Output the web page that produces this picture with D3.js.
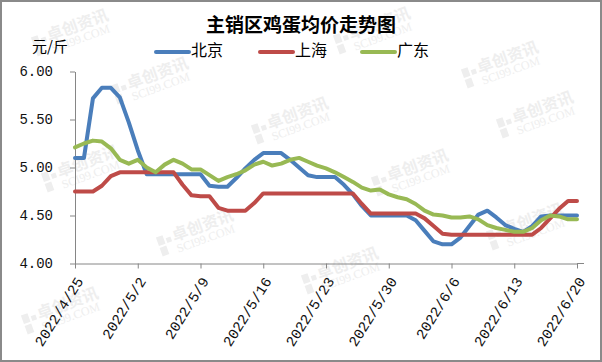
<!DOCTYPE html>
<html>
<head>
<meta charset="utf-8">
<script src="https://cdn.jsdelivr.net/npm/d3@7"></script>
<style>
  body { margin: 0; background: #fff; }
  svg { display: block; }
</style>
</head>
<body>
<svg id="chart"></svg>
<script>
// daily quotes, 2022/4/25 .. 2022/6/20
const dates = [
  '2022-04-25','2022-04-26','2022-04-27','2022-04-28','2022-04-29','2022-04-30','2022-05-01',
  '2022-05-02','2022-05-03','2022-05-04','2022-05-05','2022-05-06','2022-05-07','2022-05-08',
  '2022-05-09','2022-05-10','2022-05-11','2022-05-12','2022-05-13','2022-05-14','2022-05-15',
  '2022-05-16','2022-05-17','2022-05-18','2022-05-19','2022-05-20','2022-05-21','2022-05-22',
  '2022-05-23','2022-05-24','2022-05-25','2022-05-26','2022-05-27','2022-05-28','2022-05-29',
  '2022-05-30','2022-05-31','2022-06-01','2022-06-02','2022-06-03','2022-06-04','2022-06-05',
  '2022-06-06','2022-06-07','2022-06-08','2022-06-09','2022-06-10','2022-06-11','2022-06-12',
  '2022-06-13','2022-06-14','2022-06-15','2022-06-16','2022-06-17','2022-06-18','2022-06-19',
  '2022-06-20'
];
const beijing = [
  5.10,5.10,5.72,5.83,5.83,5.73,5.47,5.18,4.93,4.93,4.93,4.93,4.93,4.93,
  4.93,4.81,4.80,4.80,4.89,4.99,5.08,5.15,5.15,5.15,5.08,5.00,4.92,4.90,
  4.90,4.90,4.82,4.72,4.60,4.50,4.50,4.50,4.50,4.50,4.45,4.34,4.23,4.20,
  4.20,4.27,4.39,4.51,4.55,4.48,4.40,4.36,4.33,4.39,4.49,4.50,4.50,4.50,4.50
];
const shanghai = [
  4.75,4.75,4.75,4.81,4.91,4.95,4.95,4.95,4.95,4.95,4.95,4.95,4.82,4.71,
  4.70,4.70,4.58,4.55,4.55,4.55,4.63,4.73,4.73,4.73,4.73,4.73,4.73,4.73,
  4.73,4.73,4.73,4.73,4.62,4.52,4.52,4.52,4.52,4.52,4.52,4.47,4.39,4.31,
  4.30,4.30,4.30,4.30,4.30,4.30,4.30,4.30,4.30,4.30,4.37,4.47,4.57,4.65,4.65
];
const guangdong = [
  5.21,5.25,5.28,5.27,5.20,5.08,5.04,5.08,5.00,4.95,5.03,5.08,5.04,4.98,
  4.98,4.92,4.86,4.90,4.93,4.97,5.03,5.06,5.02,5.04,5.08,5.10,5.06,5.02,
  4.99,4.95,4.90,4.85,4.79,4.76,4.77,4.72,4.69,4.67,4.62,4.55,4.51,4.50,
  4.48,4.48,4.49,4.46,4.40,4.37,4.35,4.33,4.33,4.37,4.45,4.50,4.49,4.46,4.46
];
const seriesNames = ['北京', '上海', '广东'];
const yTicks = [4.00, 4.50, 5.00, 5.50, 6.00];
const xTickDates = ['2022-04-25','2022-05-02','2022-05-09','2022-05-16','2022-05-23',
  '2022-05-30','2022-06-06','2022-06-13','2022-06-20'];

const width = 602, height = 362;
const colors = ['#4a7ebb', '#be4b48', '#98b954'];
const parse = d3.timeParse('%Y-%m-%d');
const fmt = d3.timeFormat('%Y/%-m/%-d');

const svg = d3.select('#chart').attr('width', width).attr('height', height);

// frame
svg.append('rect')
  .attr('x', 1).attr('y', 1)
  .attr('width', width - 2).attr('height', height - 2)
  .attr('fill', '#fff').attr('stroke', '#8a8a8a').attr('stroke-width', 2);

// watermarks (kept inside the frame)
const marks = [[70,34],[372,32],[150,82],[500,66],[290,122],[535,116],[80,170],[410,174],[195,234],[525,228],[340,272],[60,312]];
marks.forEach(([mx, my]) => {
  const g = svg.append('g')
    .attr('transform', `translate(${mx},${my}) rotate(-20)`)
    .attr('fill', '#eeeeee');
  g.append('rect').attr('x', -38).attr('y', -10).attr('width', 7).attr('height', 9);
  g.append('rect').attr('x', -38).attr('y', 1).attr('width', 7).attr('height', 9);
  g.append('rect').attr('x', -29).attr('y', -6).attr('width', 5).attr('height', 5);
  g.append('text').attr('x', -22).attr('y', 0)
    .style('font-family', '"Noto Sans CJK SC"').style('font-weight', 700).style('font-size', '16px')
    .text('卓创资讯');
  g.append('text').attr('x', -22).attr('y', 12)
    .style('font-family', '"Liberation Serif"').style('font-size', '12px')
    .text('SCI99.COM');
});

const x = d3.scaleTime()
  .domain([parse(dates[0]), parse(dates[dates.length - 1])])
  .range([75, 577]);
const y = d3.scaleLinear().domain([4, 6]).range([263.5, 71.5]);

// y axis
const yAxis = svg.append('g')
  .attr('transform', 'translate(75,0)')
  .call(d3.axisLeft(y).tickValues(yTicks).tickSize(5).tickSizeOuter(0).tickPadding(17)
    .tickFormat(d3.format('.2f')));
yAxis.selectAll('text')
  .style('font-family', '"Liberation Mono"').style('font-size', '14px').attr('fill', '#111');

// x axis
const xAxis = svg.append('g')
  .attr('transform', 'translate(0,263.5)')
  .call(d3.axisBottom(x).tickValues(xTickDates.map(parse)).tickSize(5).tickSizeOuter(0)
    .tickFormat(fmt));
xAxis.selectAll('text')
  .style('font-family', '"Liberation Mono"').style('font-size', '14.5px').attr('fill', '#111')
  .attr('text-anchor', 'end')
  .attr('transform', 'translate(4,15) rotate(-58)')
  .attr('dy', '0.35em').attr('y', 0).attr('x', 0);
xAxis.append('line').attr('x1', 577).attr('x2', 584).attr('stroke', '#868686');

svg.selectAll('.domain, .tick line').attr('stroke', '#868686');

// lines
const line = d3.line()
  .x((d, i) => x(parse(dates[i])))
  .y(d => y(d));
[beijing, shanghai, guangdong].forEach((s, k) => {
  svg.append('path')
    .datum(s)
    .attr('fill', 'none')
    .attr('stroke', colors[k])
    .attr('stroke-width', 4)
    .attr('stroke-linejoin', 'round')
    .attr('stroke-linecap', 'round')
    .attr('d', line);
});

// title
svg.append('text')
  .attr('x', 301).attr('y', 27)
  .attr('text-anchor', 'middle').attr('dominant-baseline', 'middle')
  .style('font-family', '"Noto Sans CJK SC"').style('font-weight', 700).style('font-size', '19px')
  .text('主销区鸡蛋均价走势图');

// unit
svg.append('text')
  .attr('x', 32).attr('y', 48)
  .attr('dominant-baseline', 'middle')
  .style('font-family', '"Noto Sans CJK SC"').style('font-size', '15px')
  .text('元/斤');

// legend
const legendX = [156, 260, 362];
seriesNames.forEach((name, k) => {
  svg.append('line')
    .attr('x1', legendX[k]).attr('x2', legendX[k] + 33)
    .attr('y1', 52).attr('y2', 52)
    .attr('stroke', colors[k]).attr('stroke-width', 4).attr('stroke-linecap', 'round');
  svg.append('text')
    .attr('x', legendX[k] + 35).attr('y', 52)
    .attr('dominant-baseline', 'middle')
    .style('font-family', '"Noto Sans CJK SC"').style('font-size', '16px')
    .text(name);
});
</script>
</body>
</html>
